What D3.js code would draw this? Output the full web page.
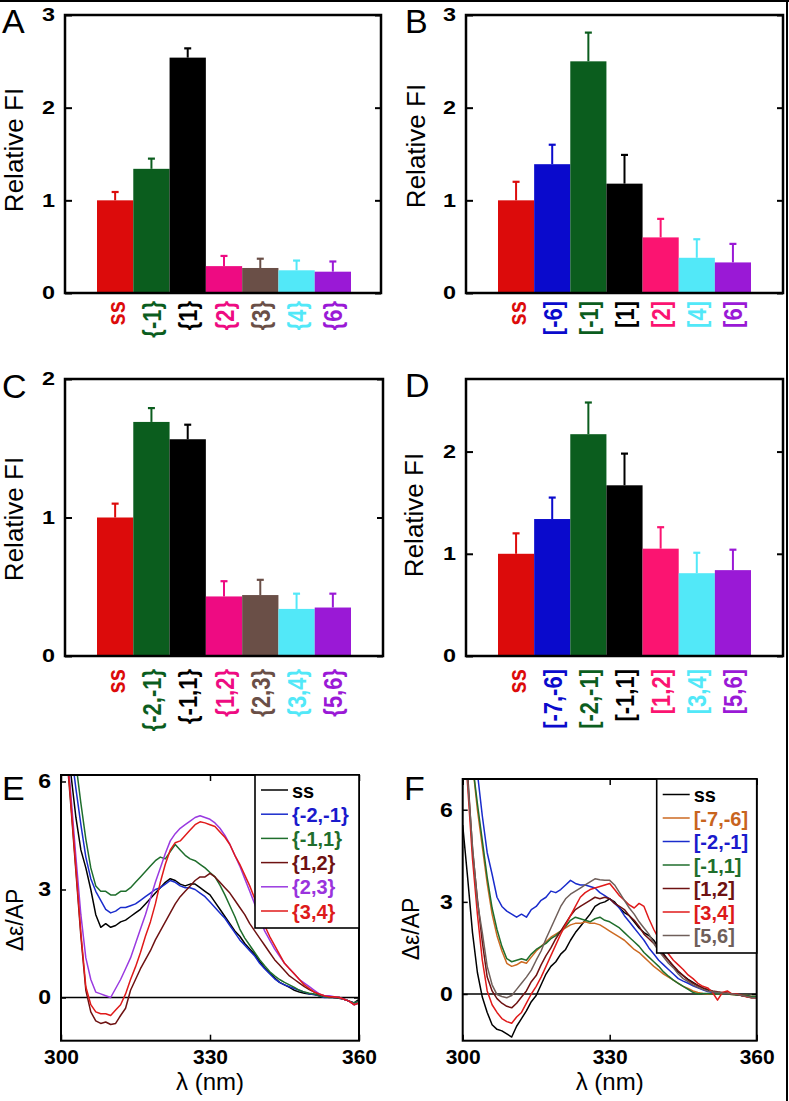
<!DOCTYPE html>
<html><head><meta charset="utf-8">
<script src="https://cdn.jsdelivr.net/npm/d3@7"></script>
<style>body{margin:0;background:#fff} svg{display:block} text{font-family:"Liberation Sans",Arial,Helvetica,sans-serif}</style>
</head><body><svg id="c" width="789" height="1101"></svg>
<script>
// ---------------- DATA ----------------
const catsA = ["ss","{-1}","{1}","{2}","{3}","{4}","{6}"];
const valsA = [1.0,1.34,2.54,0.29,0.27,0.245,0.23];
const errA  = [0.09,0.11,0.10,0.11,0.10,0.105,0.11];

const catsB = ["ss","[-6]","[-1]","[1]","[2]","[4]","[6]"];
const valsB = [1.0,1.39,2.50,1.18,0.60,0.38,0.33];
const errB  = [0.20,0.21,0.31,0.31,0.20,0.20,0.20];

const catsC = ["ss","{-2,-1}","{-1,1}","{1,2}","{2,3}","{3,4}","{5,6}"];
const valsC = [1.0,1.69,1.565,0.43,0.44,0.34,0.35];
const errC  = [0.10,0.10,0.105,0.11,0.11,0.11,0.10];

const catsD = ["ss","[-7,-6]","[-2,-1]","[-1,1]","[1,2]","[3,4]","[5,6]"];
const valsD = [1.0,1.34,2.17,1.67,1.05,0.81,0.84];
const errD  = [0.20,0.21,0.31,0.31,0.21,0.20,0.20];

const barTicksABC = [0,1,2,3];
const barTicksC = [0,1,2];
const barTicksD = [0,1,2];

const wavelengths = [300,301,302,303,304,305,306,307,308,309,
 310,311,312,313,314,315,316,317,318,319,
 320,321,322,323,324,325,326,327,328,329,
 330,331,332,333,334,335,336,337,338,339,
 340,341,342,343,344,345,346,347,348,349,
 350,351,352,353,354,355,356,357,358,359,360];
const xTicksCD = [300,330,360];
const yTicksE = [0,3,6];

const namesE = ["ss","{-2,-1}","{-1,1}","{1,2}","{2,3}","{3,4}"];
const E_ss = [9,7.5,6.2,5.0,4.1,3.6,3.0,2.3,1.95,2.05,
 1.95,2.0,2.1,2.15,2.25,2.35,2.45,2.6,2.75,2.9,
 3.05,3.2,3.3,3.25,3.15,3.1,3.15,3.15,3.05,2.95,
 2.85,2.65,2.45,2.25,2.05,1.85,1.7,1.5,1.35,1.2,
 1.0,0.82,0.68,0.55,0.42,0.35,0.28,0.2,0.15,0.12,
 0.1,0.08,0.05,0.03,0.02,0.0,0.0,-0.05,-0.1,-0.15,-0.05];
const E_m2m1 = [9,8,6.9,5.8,4.8,3.9,3.3,2.95,2.7,2.45,
 2.35,2.4,2.5,2.5,2.55,2.6,2.7,2.8,2.9,3.0,
 3.05,3.15,3.25,3.2,3.1,3.05,3.05,3.0,2.9,2.8,
 2.65,2.5,2.35,2.2,2.0,1.8,1.6,1.45,1.3,1.15,
 0.95,0.8,0.66,0.52,0.42,0.35,0.3,0.25,0.2,0.15,
 0.1,0.08,0.05,0.0,0.0,0.0,-0.02,-0.05,-0.1,-0.15,-0.1];
const E_m1p1 = [10,8.8,7.6,6.5,5.4,4.4,3.6,3.1,2.95,2.95,
 2.85,2.85,2.95,2.95,3.05,3.2,3.35,3.5,3.65,3.8,
 3.9,3.85,4.05,4.25,4.1,3.95,3.85,3.8,3.7,3.6,
 3.47,3.35,3.12,2.85,2.55,2.25,1.9,1.65,1.45,1.25,
 1.05,0.88,0.72,0.6,0.5,0.42,0.35,0.28,0.2,0.15,
 0.12,0.1,0.05,0.02,0.0,0.0,-0.02,-0.05,-0.1,-0.15,-0.1];
const E_12 = [9,7,5.3,3.5,1.7,0.2,-0.4,-0.65,-0.72,-0.68,
 -0.75,-0.72,-0.5,-0.3,0.2,0.5,0.8,1.05,1.3,1.6,
 1.85,2.1,2.35,2.6,2.8,2.95,3.1,3.25,3.35,3.35,
 3.45,3.35,3.2,3.05,2.9,2.7,2.5,2.3,2.05,1.85,
 1.65,1.45,1.25,1.05,0.9,0.75,0.6,0.5,0.4,0.3,
 0.22,0.15,0.08,0.05,0.02,0,0,-0.05,-0.1,-0.2,-0.15];
const E_23 = [9,7.3,5.6,3.9,2.3,1.1,0.5,0.15,0.1,0.05,
 0.0,0.25,0.5,0.8,1.1,1.5,1.9,2.3,2.75,3.2,
 3.6,4.0,4.35,4.55,4.7,4.8,4.9,5.0,5.05,5.0,
 4.95,4.85,4.7,4.5,4.25,3.95,3.65,3.3,2.95,2.6,
 2.2,1.85,1.6,1.35,1.15,0.95,0.8,0.65,0.5,0.4,
 0.3,0.2,0.1,0.05,0.05,0.02,0.0,-0.05,-0.1,-0.2,-0.15];
const E_34 = [9,7.2,5.4,3.6,1.8,0.3,-0.2,-0.4,-0.45,-0.45,
 -0.5,-0.35,-0.2,0.1,0.5,0.85,1.25,1.7,2.1,2.6,
 3.2,3.7,4.1,4.3,4.35,4.5,4.65,4.8,4.88,4.85,
 4.8,4.75,4.6,4.45,4.25,3.95,3.7,3.4,3.1,2.75,
 2.35,2.0,1.7,1.45,1.2,0.95,0.8,0.65,0.5,0.35,
 0.25,0.15,0.1,0.05,0.02,0.02,0.0,-0.05,-0.1,-0.2,-0.15];

const namesF = ["ss","[-7,-6]","[-2,-1]","[-1,1]","[1,2]","[3,4]","[5,6]"];
const F_ss = [5.5,3.8,2.0,0.7,-0.1,-0.6,-1.0,-1.15,-1.2,-1.3,
 -1.4,-1.05,-0.8,-0.55,-0.25,-0.05,0.3,0.65,0.9,1.05,
 1.3,1.45,1.75,2.0,2.2,2.4,2.6,2.85,2.95,3.0,
 3.1,3.0,2.8,2.65,2.55,2.35,2.15,2.0,1.9,1.75,
 1.5,1.3,1.1,0.9,0.72,0.6,0.48,0.38,0.28,0.2,
 0.13,0.08,0.05,0.03,0.0,0.0,-0.02,-0.05,-0.07,-0.1,-0.1];
const F_m7m6 = [10,9,7.5,6.0,4.8,3.6,2.6,1.9,1.4,1.0,
 0.9,0.95,1.05,1.0,1.2,1.4,1.55,1.7,1.85,1.95,
 2.05,2.15,2.25,2.3,2.3,2.35,2.3,2.3,2.25,2.15,
 2.05,1.95,1.85,1.75,1.6,1.45,1.35,1.2,1.05,0.9,
 0.78,0.65,0.55,0.45,0.35,0.25,0.18,0.1,0.05,0.02,
 0.0,0.0,0.02,0.0,0.0,-0.02,-0.03,-0.05,-0.05,-0.08,-0.08];
const F_m2m1 = [10,9.5,8.5,7.2,5.8,4.6,3.9,3.15,2.85,2.7,
 2.6,2.5,2.6,2.5,2.75,2.85,3.05,3.15,3.35,3.3,
 3.4,3.55,3.7,3.6,3.55,3.55,3.5,3.45,3.3,3.2,
 3.1,2.95,2.8,2.55,2.35,2.15,1.95,1.75,1.5,1.3,
 1.1,0.95,0.8,0.65,0.5,0.42,0.35,0.27,0.2,0.14,
 0.08,0.05,0.03,0.02,0.0,0.0,-0.02,-0.05,-0.07,-0.1,-0.1];
const F_m1p1 = [10,9,7.5,6.2,5.0,3.8,2.8,2.1,1.55,1.15,
 1.05,1.1,1.15,1.1,1.3,1.45,1.55,1.65,1.8,1.9,
 2.05,2.2,2.4,2.5,2.45,2.4,2.35,2.45,2.5,2.4,
 2.35,2.25,2.15,2.0,1.85,1.7,1.55,1.35,1.2,1.05,
 0.9,0.72,0.58,0.45,0.35,0.25,0.15,0.05,0.0,0.02,
 0.02,0.0,0.0,0.02,0.0,-0.02,-0.03,-0.05,-0.05,-0.08,-0.08];
const F_12 = [9,7.2,4.7,3.1,1.7,0.55,0.1,-0.15,-0.3,-0.4,
 -0.45,-0.3,-0.1,0.1,0.4,0.6,0.95,1.25,1.5,1.8,
 2.05,2.3,2.55,2.75,2.85,2.95,3.05,3.15,3.1,3.15,
 3.1,2.95,2.85,2.75,2.55,2.4,2.2,1.95,1.8,1.65,
 1.45,1.25,1.1,0.92,0.75,0.6,0.45,0.35,0.27,0.2,
 0.15,0.1,0.07,0.05,0.03,0.0,-0.02,-0.05,-0.08,-0.12,-0.12];
const F_34 = [9,6.8,4.4,2.6,1.1,0.1,-0.35,-0.6,-0.8,-0.9,
 -0.95,-0.75,-0.6,-0.3,0.0,0.25,0.55,0.9,1.25,1.6,
 1.95,2.25,2.55,2.85,3.15,3.3,3.4,3.45,3.5,3.55,
 3.6,3.4,3.2,3.05,2.9,2.8,2.95,2.85,2.45,2.1,
 1.8,1.55,1.3,1.1,0.95,0.8,0.62,0.5,0.35,0.25,
 0.2,0.05,-0.2,0.05,0.1,0.0,0.0,-0.05,-0.1,-0.12,-0.12];
const F_56 = [9,7,4.8,3.0,2.0,0.9,0.3,-0.02,-0.08,-0.12,
 -0.05,0.15,0.35,0.55,0.78,1.1,1.4,1.8,2.15,2.5,
 2.85,3.1,3.25,3.35,3.45,3.55,3.65,3.75,3.72,3.7,
 3.7,3.55,3.3,3.05,2.8,2.6,2.35,2.15,1.95,1.65,
 1.4,1.2,1.0,0.85,0.65,0.5,0.4,0.3,0.22,0.15,
 0.1,0.07,0.05,0.03,0.02,0.0,-0.02,-0.05,-0.08,-0.12,-0.12];

// ---------------- STYLES ----------------
const RED="#dc0b0b", DGREEN="#0b5d1e", BLACK="#000000", PINK="#ee0b82", PINK2="#fb1471",
      BROWN="#6a4f47", CYAN="#52e8f8", PURPLE="#9a19d6", BLUE="#0a0acc";
const colA = [RED,DGREEN,BLACK,PINK,BROWN,CYAN,PURPLE];
const colB = [RED,BLUE,DGREEN,BLACK,PINK2,CYAN,PURPLE];
const colC = [RED,DGREEN,BLACK,PINK,BROWN,CYAN,PURPLE];
const colD = [RED,BLUE,DGREEN,BLACK,PINK2,CYAN,PURPLE];
const curveColE = ["#000000","#1a2ccc","#1f6e2c","#6e1212","#9a3ae0","#e01a1a"];
const textColE  = ["#000000","#1a1acc","#1f6e2c","#6e1212","#9a33dd","#dd1a1a"];
const curveColF = ["#000000","#cc6a22","#1a2ccc","#1f6e2c","#6e1212","#e01a1a","#6f5f5a"];
const textColF  = ["#000000","#c8641e","#1a1acc","#1f6e2c","#6e1212","#dd1a1a","#6f5f5a"];

const svg = d3.select("#c");
svg.append("rect").attr("width",789).attr("height",1101).attr("fill","#fff");

function styleAxis(g, size, bold, sw){
  g.select(".domain").remove();
  g.attr("font-size", size).attr("font-family","Liberation Sans, Arial, sans-serif")
   .attr("font-weight", bold ? "bold" : "normal");
  g.selectAll(".tick line").attr("stroke-width", sw);
}
function widen(sel, f){
  sel.each(function(){
    const w = this.getComputedTextLength();
    if (w > 0) d3.select(this).attr("textLength", w*f).attr("lengthAdjust","spacingAndGlyphs");
  });
}

function barPanel(o){
  const x = d3.scaleBand().domain(o.cats).range([o.bx0, o.bx1]);
  const y = d3.scaleLinear().domain(o.ydom).range([o.b, o.t]);
  const g = svg.append("g");
  g.selectAll("rect.bar").data(o.vals).join("rect").attr("class","bar")
    .attr("x",(d,i)=>x(o.cats[i])).attr("width",x.bandwidth())
    .attr("y",d=>y(d)).attr("height",d=>y(0)-y(d))
    .attr("fill",(d,i)=>o.colors[i]);
  const eg = g.selectAll("g.err").data(o.vals).join("g").attr("class","err");
  eg.append("line")
    .attr("x1",(d,i)=>x(o.cats[i])+x.bandwidth()/2).attr("x2",(d,i)=>x(o.cats[i])+x.bandwidth()/2)
    .attr("y1",d=>y(d)).attr("y2",(d,i)=>y(d+o.errs[i]))
    .attr("stroke",(d,i)=>o.colors[i]).attr("stroke-width",2);
  eg.append("line")
    .attr("x1",(d,i)=>x(o.cats[i])+x.bandwidth()/2-3.5).attr("x2",(d,i)=>x(o.cats[i])+x.bandwidth()/2+3.5)
    .attr("y1",(d,i)=>y(d+o.errs[i])).attr("y2",(d,i)=>y(d+o.errs[i]))
    .attr("stroke",(d,i)=>o.colors[i]).attr("stroke-width",2.2);
  const la = g.append("g").attr("transform",`translate(${o.l},0)`)
    .call(d3.axisLeft(y).tickValues(o.ticks).tickSize(-7).tickPadding(10).tickFormat(d3.format("d")));
  styleAxis(la, 18, true, 2);
  widen(la.selectAll("text"), 1.3);
  const ra = g.append("g").attr("transform",`translate(${o.r},0)`)
    .call(d3.axisRight(y).tickValues(o.ticks).tickSize(-6).tickFormat(""));
  styleAxis(ra, 18, true, 2);
  g.append("rect").attr("x",o.l).attr("y",o.t).attr("width",o.r-o.l).attr("height",o.b-o.t)
    .attr("fill","none").attr("stroke","#000").attr("stroke-width",2.5);
  g.selectAll("text.cat").data(o.cats).join("text").attr("class","cat")
    .attr("transform",d=>`translate(${x(d)+x.bandwidth()/2},${o.labY}) scale(1.2,1) rotate(-90)`)
    .attr("text-anchor","end").attr("dy","0.36em")
    .attr("font-size",22).attr("font-weight","bold")
    .attr("fill",(d,i)=>o.colors[i]).text(d=>d);
  g.append("text").attr("transform",`translate(${o.ytx},${o.tyy}) rotate(-90)`)
    .attr("text-anchor","middle").attr("dy","0.36em").attr("font-size",26)
    .text("Relative FI");
  g.append("text").attr("x",o.lx).attr("y",o.ly).attr("font-size",34).text(o.letter);
}

barPanel({cats:catsA, vals:valsA, errs:errA, colors:colA, ydom:[0,3], ticks:barTicksABC,
  l:65, r:381, t:15, b:293, bx0:97, bx1:351, labY:301, ytx:14, tyy:150, lx:2, ly:33, letter:"A"});
barPanel({cats:catsB, vals:valsB, errs:errB, colors:colB, ydom:[0,3], ticks:barTicksABC,
  l:466, r:783, t:15, b:293, bx0:498, bx1:751, labY:301, ytx:416, tyy:146, lx:405, ly:33, letter:"B"});
barPanel({cats:catsC, vals:valsC, errs:errC, colors:colC, ydom:[0,2], ticks:barTicksC,
  l:65, r:383, t:379, b:656, bx0:97, bx1:351, labY:669, ytx:14, tyy:519, lx:2, ly:398, letter:"C"});
barPanel({cats:catsD, vals:valsD, errs:errD, colors:colD, ydom:[0,2.71], ticks:barTicksD,
  l:466, r:783, t:379, b:656, bx0:498, bx1:751, labY:669, ytx:414, tyy:515, lx:405, ly:397, letter:"D"});

function specPanel(o){
  const x = d3.scaleLinear().domain([300,360]).range([o.l,o.r]);
  const y = d3.scaleLinear().domain(o.ydom).range([o.b,o.t]);
  const g = svg.append("g");
  const cid = "clip"+o.letter;
  g.append("clipPath").attr("id",cid).append("rect")
    .attr("x",o.l).attr("y",o.t).attr("width",o.r-o.l).attr("height",o.b-o.t);
  g.append("line").attr("x1",x(300)).attr("x2",x(360)).attr("y1",y(0)).attr("y2",y(0))
    .attr("stroke","#000").attr("stroke-width",1.3);
  const line = d3.line().x((d,i)=>x(wavelengths[i])).y(d=>y(d));
  g.append("g").attr("clip-path",`url(#${cid})`).selectAll("path").data(o.series).join("path")
    .attr("d",line).attr("fill","none").attr("stroke",(d,i)=>o.colors[i])
    .attr("stroke-width",1.5).attr("stroke-linejoin","round");
  const la = g.append("g").attr("transform",`translate(${o.l},0)`)
    .call(d3.axisLeft(y).tickValues(yTicksE).tickSize(-5).tickPadding(10).tickFormat(d3.format("d")));
  styleAxis(la, 20, true, 1.5);
  widen(la.selectAll("text"), 1.15);
  const ba = g.append("g").attr("transform",`translate(0,${o.b})`)
    .call(d3.axisBottom(x).tickValues(xTicksCD).tickSize(-6).tickPadding(9).tickFormat(d3.format("d")));
  styleAxis(ba, 20, true, 1.5);
  widen(ba.selectAll("text"), 1.05);
  const ta = g.append("g").attr("transform",`translate(0,${o.t})`)
    .call(d3.axisTop(x).tickValues(xTicksCD).tickSize(-6).tickFormat(""));
  styleAxis(ta, 20, true, 1.5);
  const ra = g.append("g").attr("transform",`translate(${o.r},0)`)
    .call(d3.axisRight(y).tickValues(yTicksE).tickSize(-5).tickFormat(""));
  styleAxis(ra, 20, true, 1.5);
  g.append("rect").attr("x",o.l).attr("y",o.t).attr("width",o.r-o.l).attr("height",o.b-o.t)
    .attr("fill","none").attr("stroke","#000").attr("stroke-width",2);
  const lg = g.append("g");
  lg.append("rect").attr("x",o.lgx).attr("y",o.t).attr("width",o.r-o.lgx).attr("height",o.lgb-o.t)
    .attr("fill","#fff").attr("stroke","#000").attr("stroke-width",1.6);
  o.names.forEach((n,i)=>{
    const yy = o.ly0 + i*o.lstep;
    lg.append("line").attr("x1",o.lgx+6).attr("x2",o.lgx+33).attr("y1",yy).attr("y2",yy)
      .attr("stroke",o.colors[i]).attr("stroke-width",1.5);
    lg.append("text").attr("x",o.lgx+37).attr("y",yy+7.5).attr("font-size",20).attr("font-weight","bold")
      .attr("fill",o.textColors[i]).text(n);
  });
  g.append("text").attr("x",(o.l+o.r)/2).attr("y",1090).attr("text-anchor","middle")
    .attr("font-size",24).text("λ (nm)");
  g.append("text").attr("transform",`translate(${o.ytx},${o.tyy}) rotate(-90)`)
    .attr("text-anchor","middle").attr("dy","0.36em").attr("font-size",23).text("Δε/AP");
  g.append("text").attr("x",o.lx).attr("y",o.ly).attr("font-size",34).text(o.letter);
}

specPanel({letter:"E", l:61, r:359, t:775, b:1040.7, ydom:[-1.2,6.18],
  series:[E_ss,E_m2m1,E_m1p1,E_12,E_23,E_34], names:namesE, colors:curveColE, textColors:textColE,
  lgx:255, lgb:928, ly0:790, lstep:24.2, ytx:15, tyy:920, lx:2, ly:800});
specPanel({letter:"F", l:462.7, r:756.7, t:779, b:1040.7, ydom:[-1.52,7],
  series:[F_ss,F_m7m6,F_m2m1,F_m1p1,F_12,F_34,F_56], names:namesF, colors:curveColF, textColors:textColF,
  lgx:656.7, lgb:953, ly0:794.5, lstep:23.5, ytx:411, tyy:929, lx:404, ly:800});

svg.append("line").attr("x1",0).attr("x2",789).attr("y1",1).attr("y2",1).attr("stroke","#000").attr("stroke-width",2);
svg.append("line").attr("x1",787).attr("x2",787).attr("y1",0).attr("y2",1101).attr("stroke","#000").attr("stroke-width",2);
</script></body></html>
